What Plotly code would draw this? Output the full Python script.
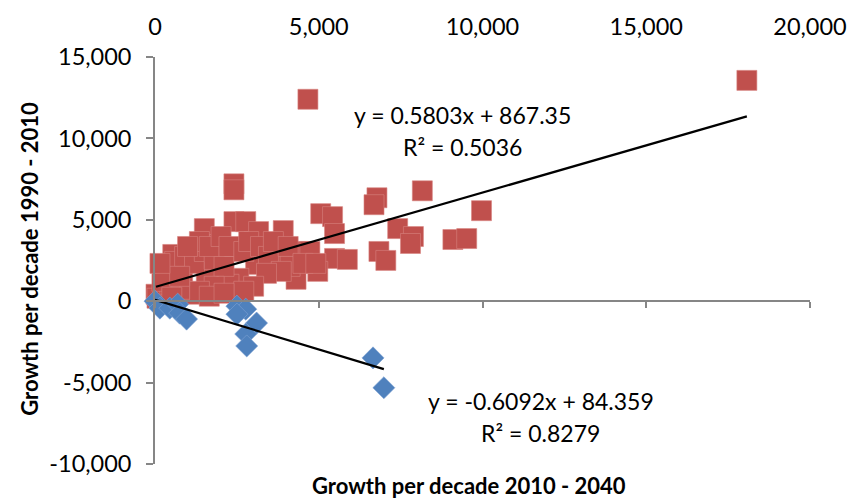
import plotly.graph_objects as go

# ---- data ----
red_x = [18072, 4669, 2410, 2410, 6777, 6687, 8163, 9970, 1506, 2410, 2771, 3163, 3916,
         5060, 5422, 5482, 7410, 7891, 7801, 6837, 7048, 9096, 9518, 5482, 4970, 4307,
         4367, 4729, 3765, 3072, 2560, 2259, 1958, 1265, 542, 301, 843, 1566, 1145, 30,
         60, 602, 904, 1205, 1506, 1807, 2108, 1355, 1657, 994, 2018, 2259, 2711, 2861,
         3223, 3464, 3614, 4066, 4126, 4518, 4910, 5873, 3855, 3404, 3012, 2711, 1807,
         1355, 753, 452, 211, 1657, 2108, 512, 753, 151]
red_y = [13564, 12403, 7210, 6843, 6354, 5927, 6782, 5560, 4460, 4888, 4888, 4277, 4338,
         5377, 5194, 4155, 4460, 3972, 3544, 3055, 2505, 3788, 3849, 2627, 1833, 1344,
         3055, 3055, 2322, 2261, 1405, 1039, 3483, 3055, 2872, 1833, 1833, 1405, 428, 428,
         183, 2444, 2750, 2322, 3055, 2566, 2139, 3666, 3361, 3361, 3972, 3361, 3055, 3666,
         3361, 2750, 3666, 3361, 2139, 2322, 2322, 2566, 1833, 1711, 917, 611, 917,
         611, 733, 1039, 1222, 306, 489, 244, 1528, 2322]

blue_x = [0, 150, 452, 693, 753, 964, 2500, 2771, 2500, 3102, 2771, 2801, 6657, 6988]
blue_y = [0, -427, -427, -183, -733, -1100, -305, -489, -794, -1344, -2016, -2750, -3483, -5316]

red_fit = (0.5803, 867.35)
blue_fit = (-0.6092, 84.359)
red_eq = ["y = 0.5803x + 867.35", "R² = 0.5036"]
blue_eq = ["y = -0.6092x + 84.359", "R² = 0.8279"]

x_ticks = [0, 5000, 10000, 15000, 20000]
x_tick_text = ["0", "5,000", "10,000", "15,000", "20,000"]
y_ticks = [-10000, -5000, 0, 5000, 10000, 15000]
y_tick_text = ["-10,000", "-5,000", "0", "5,000", "10,000", "15,000"]
x_title = "Growth per decade 2010 - 2040"
y_title = "Growth per decade 1990 - 2010"

RED = "#C0504D"
BLUE = "#4F81BD"
AXIS = "#868686"
FONT = "Lato"

def fit_line(xs, coef):
    lo, hi = min(xs), max(xs)
    return [lo, hi], [coef[0] * lo + coef[1], coef[0] * hi + coef[1]]

fig = go.Figure()
fig.add_trace(go.Scatter(x=red_x, y=red_y, mode="markers", cliponaxis=False,
                         marker=dict(symbol="square", size=20, color=RED,
                                     line=dict(width=0.6, color="#D7837F"))))
fig.add_trace(go.Scatter(x=blue_x, y=blue_y, mode="markers", cliponaxis=False,
                         marker=dict(symbol="diamond", size=17, color=BLUE,
                                     line=dict(width=0.6, color="#7FA3D3"))))
rx, ry = fit_line(red_x, red_fit)
bx, by = fit_line(blue_x, blue_fit)
fig.add_trace(go.Scatter(x=rx, y=ry, mode="lines", line=dict(color="black", width=2.2)))
fig.add_trace(go.Scatter(x=bx, y=by, mode="lines", line=dict(color="black", width=2.2)))
# invisible trace to carry the top axis
fig.add_trace(go.Scatter(x=[0, 20000], y=[0, 0], xaxis="x2", mode="markers",
                         marker=dict(opacity=0), hoverinfo="skip"))

tick_font = dict(family=FONT, size=23.5, color="black")
fig.update_layout(
    width=859, height=500,
    margin=dict(l=155, r=40, t=55, b=36),
    paper_bgcolor="white", plot_bgcolor="white",
    showlegend=False,
    xaxis=dict(range=[0, 20000], tickvals=x_ticks, anchor="free", position=0.4,
               showline=True, linecolor=AXIS, linewidth=1.6,
               ticks="outside", ticklen=6, tickwidth=1.6, tickcolor=AXIS,
               showticklabels=False, showgrid=False, zeroline=False),
    xaxis2=dict(range=[0, 20000], tickvals=x_ticks, ticktext=x_tick_text,
                overlaying="x", side="top",
                tickfont=tick_font, ticks="", showline=False,
                showgrid=False, zeroline=False, ticklabelstandoff=16),
    yaxis=dict(range=[-10000, 15000], tickvals=y_ticks, ticktext=y_tick_text,
               tickfont=tick_font, showline=True, linecolor=AXIS, linewidth=1.6,
               ticks="outside", ticklen=7, tickwidth=1.6, tickcolor=AXIS,
               showgrid=False, zeroline=False, ticklabelstandoff=10),
)

ann_font = dict(family=FONT, size=23, color="black")
fig.add_annotation(x=9397, y=11426, xref="x", yref="y", text=red_eq[0],
                   showarrow=False, font=ann_font)
fig.add_annotation(x=9397, y=9470, xref="x", yref="y", text=red_eq[1],
                   showarrow=False, font=ann_font)
fig.add_annotation(x=11777, y=-6110, xref="x", yref="y", text=blue_eq[0],
                   showarrow=False, font=ann_font)
fig.add_annotation(x=11777, y=-8065, xref="x", yref="y", text=blue_eq[1],
                   showarrow=False, font=ann_font)

title_font = dict(family=FONT, size=22, color="black", weight="bold")
fig.add_annotation(x=0.479, y=-0.052, xref="paper", yref="paper", text="<b>" + x_title + "</b>",
                   showarrow=False, font=title_font, xanchor="center", yanchor="middle")
fig.add_annotation(x=-0.191, y=0.504, xref="paper", yref="paper", text="<b>" + y_title + "</b>",
                   showarrow=False, font=title_font, textangle=-90,
                   xanchor="center", yanchor="middle")

fig.write_html("out.html", config={"displayModeBar": False},
               post_script="document.body.style.margin='0';document.body.style.overflow='hidden';")
